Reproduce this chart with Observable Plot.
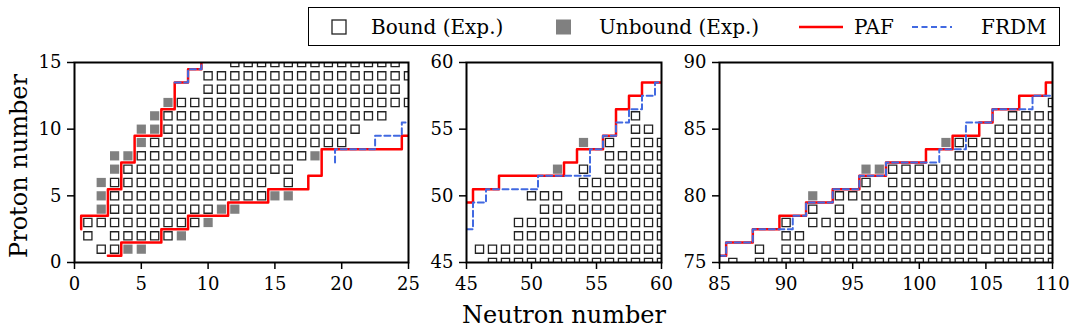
<!DOCTYPE html>
<html><head><meta charset="utf-8">
<script src="https://cdn.jsdelivr.net/npm/d3@7"></script>
<script src="https://cdn.jsdelivr.net/npm/@observablehq/plot@0.6"></script>
<style>
html,body{margin:0;padding:0;background:#fff;}
#root{position:relative;width:1079px;height:335px;overflow:hidden;font-family:"DejaVu Serif",serif;}
#root svg{position:absolute;}
</style></head>
<body><div id="root"></div>
<script>
// ---------- data ----------
const legendLabels = ["Bound (Exp.)", "Unbound (Exp.)", "PAF", "FRDM"];
const xLabel = "Neutron number";
const yLabel = "Proton number";

// Panel 1 (light nuclei): bound nuclei as [Z, Nfrom, Nto]
const p1Bound = [
  [1,2,3],[2,1,1],[2,3,7],[3,1,9],[4,3,10],[5,3,14],[6,3,14],[6,16,16],
  [7,4,16],[8,5,17],[9,6,20],[10,7,21],[11,7,23],[12,8,25],[13,10,24],
  [14,10,25],[15,12,24]
];
// unbound as [Z, N]
const p1Unbound = [
  [1,4],[1,5],[2,8],[3,10],[4,2],[4,11],[4,12],[5,2],[5,15],[5,16],[6,2],
  [7,3],[8,3],[8,4],[8,18],[9,5],[10,5],[10,6],[11,6],[12,7]
];
const p1PAF = [
  [[0.5,2.5],[0.5,3.5],[2.5,3.5],[2.5,5.5],[3.5,5.5],[3.5,7.5],[4.5,7.5],[4.5,9.5],[6.5,9.5],[6.5,11.5],[7.5,11.5],[7.5,13.5],[8.5,13.5],[8.5,14.5],[9.5,14.5],[9.5,15.5]],
  [[2.5,0.5],[3.5,0.5],[3.5,1.5],[6.5,1.5],[6.5,2.5],[8.5,2.5],[8.5,3.5],[11.5,3.5],[11.5,4.5],[14.5,4.5],[14.5,5.5],[17.5,5.5],[17.5,6.5],[18.5,6.5],[18.5,8.5],[24.5,8.5],[24.5,9.5],[25.5,9.5]]
];
const p1FRDM = [
  [[7.5,13.5],[8.5,13.5],[8.5,14.5],[9.5,14.5],[9.5,15.5]],
  [[19.5,7.5],[19.5,8.5],[22.5,8.5],[22.5,9.5],[24.5,9.5],[24.5,10.5],[25.5,10.5]]
];

// Panel 2
const p2Bound = [
  [45,47,60],[46,46,60],[47,49,60],[48,49,60],[49,51,60],[50,50,52],[50,54,60],
  [51,54,60],[52,54,54],[52,56,60],[53,56,60],[54,56,56],[54,58,60],[55,58,59],[56,58,58]
];
const p2Unbound = [[52,52],[54,54]];
const p2PAF = [
  [[45,49.5],[45.5,49.5],[45.5,50.5],[47.5,50.5],[47.5,51.5],[52.5,51.5],[52.5,52.5],[53.5,52.5],[53.5,53.5],[55.5,53.5],[55.5,54.5],[56.5,54.5],[56.5,56.5],[57.5,56.5],[57.5,57.5],[58.5,57.5],[58.5,58.5],[60.5,58.5]]
];
const p2FRDM = [
  [[45,47.5],[45.5,47.5],[45.5,49.5],[46.5,49.5],[46.5,50.5],[50.5,50.5],[50.5,51.5],[54.5,51.5],[54.5,53.5],[55.5,53.5],[55.5,54.5],[56.5,54.5],[56.5,55.5],[57.5,55.5],[57.5,56.5],[58.5,56.5],[58.5,57.5],[59.5,57.5],[59.5,58.5],[60.5,58.5]]
];

// Panel 3
const p3Bound = [
  [75,86,86],[75,88,91],[75,93,104],[75,106,110],[76,88,88],[76,90,110],
  [77,90,91],[77,94,110],[78,90,90],[78,92,110],[79,92,92],[79,94,94],[79,96,110],
  [80,94,110],[81,96,96],[81,98,110],[82,98,110],[83,103,110],[84,103,110],
  [85,106,110],[86,107,110],[87,110,110]
];
const p3Unbound = [[80,92],[82,96],[82,97],[84,102]];
const p3PAF = [
  [[85,75.5],[85.5,75.5],[85.5,76.5],[87.5,76.5],[87.5,77.5],[89.5,77.5],[89.5,78.5],[91.5,78.5],[91.5,79.5],[93.5,79.5],[93.5,80.5],[95.5,80.5],[95.5,81.5],[97.5,81.5],[97.5,82.5],[100.5,82.5],[100.5,83.5],[102.5,83.5],[102.5,84.5],[104.5,84.5],[104.5,85.5],[105.5,85.5],[105.5,86.5],[107.5,86.5],[107.5,87.5],[109.5,87.5],[109.5,88.5],[110.5,88.5]]
];
const p3FRDM = [
  [[85,75.5],[85.5,75.5],[85.5,76.5],[87.5,76.5],[87.5,77.5],[90.5,77.5],[90.5,78.5],[91.5,78.5],[91.5,79.5],[93.5,79.5],[93.5,80.5],[95.5,80.5],[95.5,81.5],[97.5,81.5],[97.5,82.5],[101.5,82.5],[101.5,83.5],[103.5,83.5],[103.5,85.5],[105.5,85.5],[105.5,86.5],[108.5,86.5],[108.5,87.5],[110.5,87.5]]
];

const p1XTicks = [0,5,10,15,20,25], p1YTicks = [0,5,10,15];
const p2XTicks = [45,50,55,60],     p2YTicks = [45,50,55,60];
const p3XTicks = [85,90,95,100,105,110], p3YTicks = [75,80,85,90];

// ---------- drawing ----------
const FONT = "DejaVu Serif";
const RED = "#ff0000", BLUE = "#4169e1", GRAY = "#808080";

function expand(segs) {
  const out = [];
  for (const [z, a, b] of segs) for (let n = a; n <= b; n++) out.push({n, z});
  return out;
}
function pts(list) { return list.map(([z, n]) => ({n, z})); }

function panel(o) {
  const mL = 60, mR = 12, mT = 12, mB = 40, H = 200;
  const svg = Plot.plot({
    width: mL + o.w + mR, height: mT + H + mB,
    marginLeft: mL, marginRight: mR, marginTop: mT, marginBottom: mB,
    style: {fontFamily: FONT, fontSize: "18px", color: "black", background: "transparent", overflow: "visible"},
    x: {domain: o.xd},
    y: {domain: o.yd},
    marks: [
      Plot.dot(expand(o.bound), {x: "n", y: "z", symbol: "square", r: 4.6, stroke: "#222", strokeWidth: 1.3, fill: "white", clip: true}),
      Plot.dot(pts(o.unbound), {x: "n", y: "z", symbol: "square", r: 5.2, fill: GRAY, clip: true}),
      ...o.paf.map(s => Plot.line(s, {x: d => d[0], y: d => d[1], stroke: RED, strokeWidth: 2.5, clip: true})),
      ...o.frdm.map(s => Plot.line(s, {x: d => d[0], y: d => d[1], stroke: BLUE, strokeWidth: 2, strokeDasharray: "6,3.5", clip: true})),
      Plot.axisX({ticks: o.xt, tickSize: 7, tickPadding: 8, label: null, strokeWidth: 1.5}),
      Plot.axisY({ticks: o.yt, tickSize: 7, tickPadding: 6, label: null, strokeWidth: 1.5}),
      Plot.frame({stroke: "black", strokeWidth: 2})
    ]
  });
  svg.style.left = (o.left - mL) + "px";
  svg.style.top = (62 - mT) + "px";
  return svg;
}

const root = document.getElementById("root");
root.appendChild(panel({left: 74, w: 334, xd: [0, 25], yd: [0, 15], xt: p1XTicks, yt: p1YTicks, bound: p1Bound, unbound: p1Unbound, paf: p1PAF, frdm: p1FRDM}));
root.appendChild(panel({left: 466, w: 195, xd: [45, 60], yd: [45, 60], xt: p2XTicks, yt: p2YTicks, bound: p2Bound, unbound: p2Unbound, paf: p2PAF, frdm: p2FRDM}));
root.appendChild(panel({left: 719, w: 333, xd: [85, 110], yd: [75, 90], xt: p3XTicks, yt: p3YTicks, bound: p3Bound, unbound: p3Unbound, paf: p3PAF, frdm: p3FRDM}));

// overlay: axis titles and legend
const ns = "http://www.w3.org/2000/svg";
const ov = d3.select(root).append("svg").attr("width", 1079).attr("height", 335)
  .style("left", "0px").style("top", "0px").style("pointer-events", "none")
  .attr("font-family", FONT);
ov.append("text").attr("x", 564).attr("y", 323).attr("text-anchor", "middle").attr("font-size", 24).attr("fill", "black").text(xLabel);
ov.append("text").attr("transform", "translate(26.5,166) rotate(-90)").attr("text-anchor", "middle").attr("font-size", 24).attr("fill", "black").text(yLabel);

const lg = ov.append("g");
lg.append("rect").attr("x", 308.5).attr("y", 7.5).attr("width", 751).attr("height", 38).attr("fill", "white").attr("stroke", "black").attr("stroke-width", 1);
const cy = 27;
lg.append("rect").attr("x", 332).attr("y", cy - 7).attr("width", 14).attr("height", 14).attr("fill", "white").attr("stroke", "#222").attr("stroke-width", 1.3);
lg.append("rect").attr("x", 556).attr("y", cy - 7.5).attr("width", 15).attr("height", 15).attr("fill", GRAY);
lg.append("line").attr("x1", 799).attr("x2", 843).attr("y1", cy).attr("y2", cy).attr("stroke", RED).attr("stroke-width", 2.5);
lg.append("line").attr("x1", 912).attr("x2", 952).attr("y1", cy).attr("y2", cy).attr("stroke", BLUE).attr("stroke-width", 2).attr("stroke-dasharray", "6,3.5");
const tx = [371, 599, 854, 981];
legendLabels.forEach((t, i) => lg.append("text").attr("x", tx[i]).attr("y", cy + 7).attr("font-size", 20).attr("fill", "black").text(t));
</script>
</body></html>
